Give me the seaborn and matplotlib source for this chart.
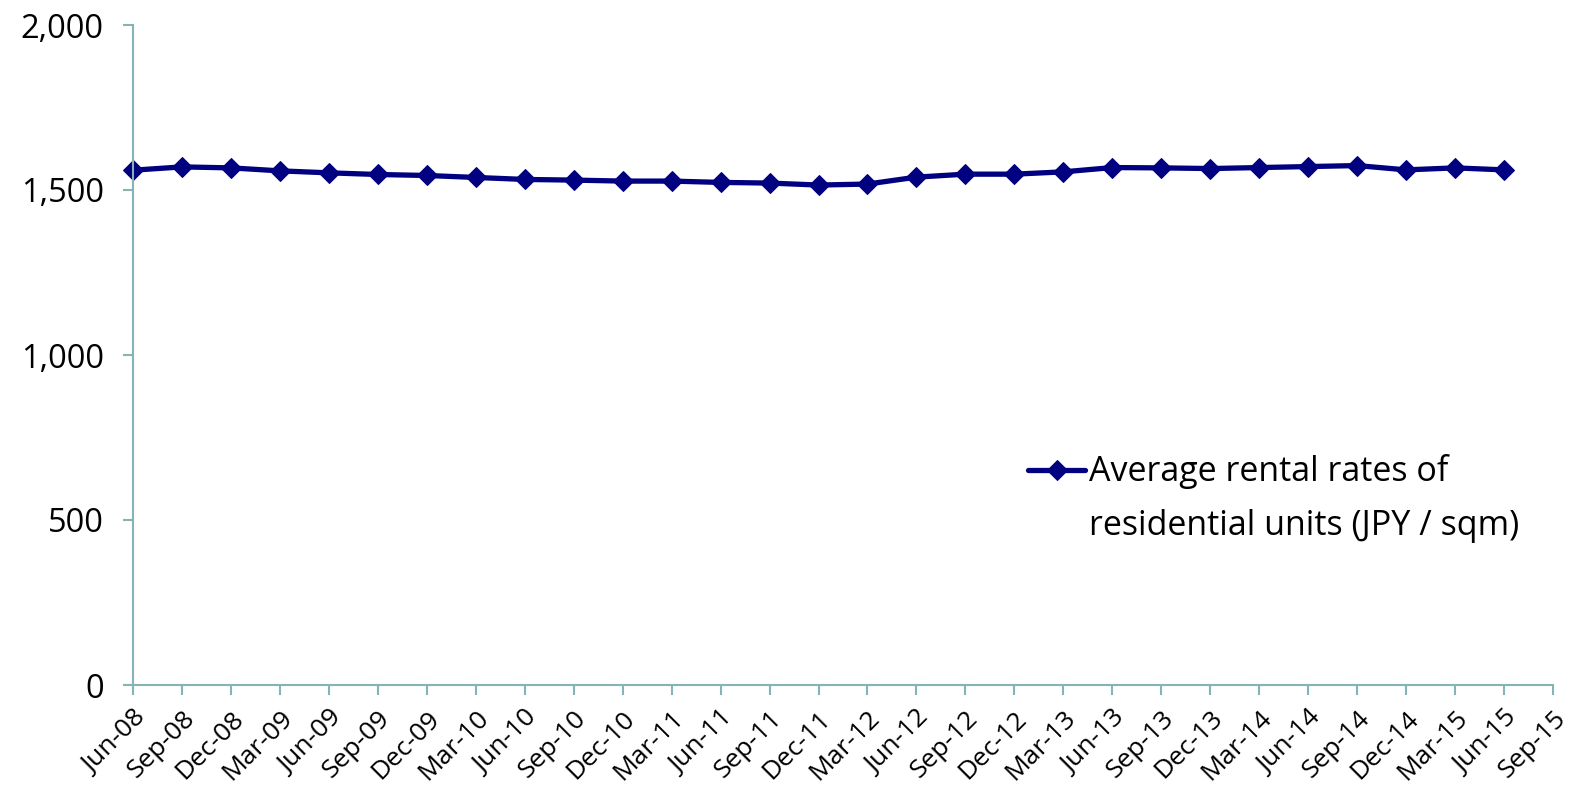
import numpy as np
import pandas as pd
import matplotlib
matplotlib.use("Agg")
import matplotlib.pyplot as plt
import seaborn as sns

# quarterly tick labels (axis runs one quarter past the last data point)
tick_labels = ['Jun-08', 'Sep-08', 'Dec-08', 'Mar-09', 'Jun-09', 'Sep-09', 'Dec-09',
               'Mar-10', 'Jun-10', 'Sep-10', 'Dec-10', 'Mar-11', 'Jun-11', 'Sep-11',
               'Dec-11', 'Mar-12', 'Jun-12', 'Sep-12', 'Dec-12', 'Mar-13', 'Jun-13',
               'Sep-13', 'Dec-13', 'Mar-14', 'Jun-14', 'Sep-14', 'Dec-14', 'Mar-15',
               'Jun-15', 'Sep-15']

# average rental rates (JPY / sqm), Jun-08 .. Jun-15
rent = [1560, 1570, 1567, 1558, 1552, 1547, 1544, 1538, 1532, 1530,
        1527, 1527, 1523, 1521, 1515, 1518, 1539, 1548, 1548, 1555,
        1568, 1567, 1565, 1568, 1571, 1574, 1561, 1567, 1561]

label = 'Average rental rates of\nresidential units (JPY / sqm)'

df = pd.DataFrame({'q': np.arange(len(rent)), 'rent': rent})

sns.set_style('white')
plt.rcParams['font.family'] = ['Open Sans', 'DejaVu Sans']
plt.rcParams['text.color'] = 'black'

axis_col = '#86B4B4'
line_col = '#000080'

fig = plt.figure(figsize=(15.74, 7.94), dpi=100)
ax = fig.add_axes([133 / 1574, 1 - 685 / 794, (1553 - 133) / 1574, (685 - 25) / 794])

sns.lineplot(data=df, x='q', y='rent', ax=ax, color=line_col, linewidth=3.8,
             marker='D', markersize=10.5, markeredgecolor=line_col, label=label,
             clip_on=False)

ax.set_xlim(0, len(tick_labels) - 1)
ax.set_ylim(0, 2000)
ax.set_yticks([0, 500, 1000, 1500, 2000])
ax.set_yticklabels(['0', '500', '1,000', '1,500', '2,000'])
ax.set_xticks(np.arange(len(tick_labels)))
ax.set_xticklabels(tick_labels, rotation=45, ha='right', rotation_mode='anchor')
ax.set_xlabel('')
ax.set_ylabel('')

for side in ['top', 'right']:
    ax.spines[side].set_visible(False)
for side in ['left', 'bottom']:
    ax.spines[side].set_color(axis_col)
    ax.spines[side].set_linewidth(1.5)

ax.tick_params(axis='y', which='major', direction='out', length=7, width=1.5,
               color=axis_col, labelcolor='black', labelsize=23.5, pad=14, left=True)
ax.tick_params(axis='x', which='major', direction='out', length=7, width=1.5,
               color=axis_col, labelcolor='black', labelsize=19, pad=8, bottom=True)

leg = ax.legend(loc='upper left', bbox_to_anchor=(1014 / 1574, 1 - 415 / 794),
                bbox_transform=fig.transFigure, frameon=False, fontsize=24.5,
                handlelength=1.7, handletextpad=0.1, handleheight=6.5,
                borderaxespad=0)
for t in leg.get_texts():
    t.set_linespacing(1.75)

fig.savefig('out.png', dpi=100)
